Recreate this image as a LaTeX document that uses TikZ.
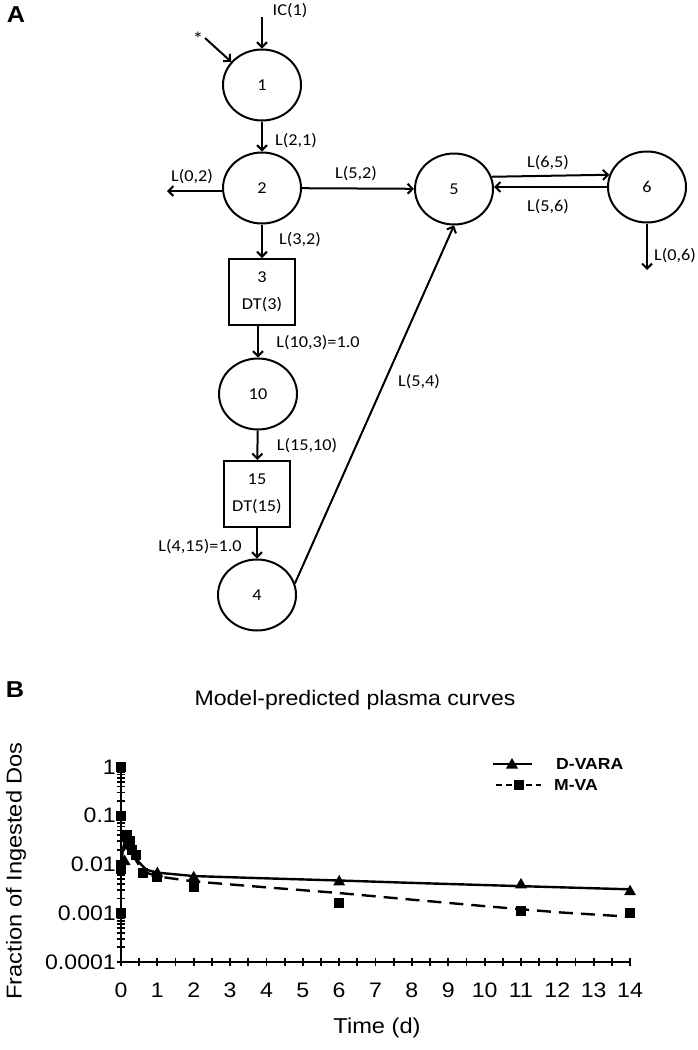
\documentclass[tikz,border=0pt]{standalone}
\usepackage{fontspec}
\setmainfont{Carlito}[FakeStretch=1.1]
\newfontfamily\plotfont{Liberation Sans}[FakeStretch=1.1]
\usepackage{tikz}
\usetikzlibrary{arrows.meta,shapes.geometric}

\tikzset{
  tri/.pic={\fill (0,6pt) -- (-6pt,-4.5pt) -- (6pt,-4.5pt) -- cycle;},
  sq/.pic={\fill (-5pt,-5pt) rectangle (5pt,5pt);}
}

\begin{document}
\begin{tikzpicture}[x=1pt,y=-1pt,
    comp/.style={draw,ellipse,line width=2pt,minimum width=78pt,minimum height=71pt,inner sep=0pt,font=\fontsize{16.6}{27}\selectfont},
    delay/.style={draw,rectangle,line width=2pt,minimum width=66pt,minimum height=66pt,inner sep=0pt,align=center,font=\fontsize{16.6}{27}\selectfont},
    flow/.style={line width=2pt,-{Straight Barb[length=5pt,width=10pt]}},
    lbl/.style={inner sep=0pt,font=\fontsize{16.6}{20}\selectfont},
    panel/.style={inner sep=0pt,font=\plotfont\fontsize{23}{23}\selectfont\bfseries},
    tick/.style={inner sep=0pt,font=\plotfont\fontsize{21}{21}\selectfont},
    axlbl/.style={inner sep=0pt,font=\plotfont\fontsize{21.5}{22}\selectfont},
    leg/.style={inner sep=0pt,anchor=west,font=\plotfont\fontsize{16}{16}\selectfont\bfseries}]
    \useasboundingbox (0,0) rectangle (698,1050);

    % Panel A: compartments
    \node[panel] (pa) at (16,15) {A};
    \node[comp] (n1) at (262,85) {1};
    \node[comp] (n2) at (262,188) {2};
    \node[comp] (n5) at (454,189) {5};
    \node[comp] (n6) at (647,187) {6};
    \node[delay] (b3) at (262,292) {3\\DT(3)};
    \node[comp] (n10) at (258,394) {10};
    \node[delay] (b15) at (257,494) {15\\DT(15)};
    \node[comp] (n4) at (257,595) {4};

    % free ends
    \coordinate (icin) at (262,17);
    \coordinate (sin) at (205,38);
    \coordinate (out2) at (167,191);
    \coordinate (out6) at (647,270);

    % transfers
    \draw[flow] (icin) -- (n1);
    \draw[flow] (sin) -- (n1.143);
    \draw[flow] (n1) -- (n2);
    \draw[flow] (n2.west |- out2) -- (out2);
    \draw[flow] (n2) -- (n5);
    \draw[flow] (n5.18) -- (n6.162);
    \draw[flow] (n6.west) -- (n5.east |- n6.west);
    \draw[flow] (n6) -- (out6);
    \draw[flow] (n2) -- (b3);
    \draw[flow] (n10.north |- b3.south) -- (n10);
    \draw[flow] (n10) -- (b15);
    \draw[flow] (b15) -- (n4);
    \draw[flow] (n4.17) -- (n5.south);

    % labels
    \node[lbl] (tic) at (290,11) {IC(1)};
    \node[lbl,font=\fontsize{19}{20}\selectfont] (tstar) at (198,39) {*};
    \node[lbl] (t21) at (296,141) {L(2,1)};
    \node[lbl] (t02) at (192,177) {L(0,2)};
    \node[lbl] (t52) at (356,174) {L(5,2)};
    \node[lbl] (t65) at (548,163) {L(6,5)};
    \node[lbl] (t56) at (548,207) {L(5,6)};
    \node[lbl] (t06) at (675,256) {L(0,6)};
    \node[lbl] (t32) at (300,240) {L(3,2)};
    \node[lbl] (t103) at (318,343) {L(10,3)=1.0};
    \node[lbl] (t1510) at (307,446) {L(15,10)};
    \node[lbl] (t415) at (200,547) {L(4,15)=1.0};
    \node[lbl] (t54) at (419,382) {L(5,4)};

    % Panel B: plasma curves
    \node[panel] (pb) at (15,690) {B};
    \node[tick] (title) at (355,700) {Model-predicted plasma curves};
    \node[axlbl,rotate=90] (ylab) at (16,871) {Fraction of Ingested Dos};
    \node[axlbl] (xlab) at (377,1028) {Time (d)};

    % Legend
    \draw[line width=2.4pt] (493,764) -- (532,764);
    \pic at (512,764) {tri};
    \node[leg] (legA) at (556,764) {D-VARA};
    \draw[line width=2.4pt,dash pattern=on 6pt off 4pt] (496,785) -- (541,785);
    \pic at (519,785) {sq};
    \node[leg] (legB) at (554,785) {M-VA};

    \begin{scope}[shift={(121,962)},x=36.36pt,y=48.75pt]
    % axes
    \draw[line width=2.8pt] (0,4) -- (0,0) -- (14,0);
    \foreach \t in {0,0.5,...,14}
        \draw[line width=1.8pt] (\t,0) ++(0,-4pt) -- ++(0,8pt);
    \foreach \d in {0,1,2,3}
        \foreach \k in {1,...,9}
            \draw[line width=1.8pt] (0,{\d+log10(\k)}) ++(-4pt,0) -- ++(8pt,0);
    \draw[line width=1.8pt] (0,4) ++(-4pt,0) -- ++(8pt,0);
    \foreach \t in {0,...,14}
        \node[tick,yshift=-28pt] (xl\t) at (\t,0) {\t};
    \foreach \y/\v in {4/1,3/0.1,2/0.01,1/0.001,0/0.0001}
        \node[tick,anchor=east,xshift=-5pt] (yl\y) at (0,\y) {\v};

    % D-VARA model
    \draw[line width=2.4pt,line join=round] plot coordinates {(0,1.954) (0.05,2.301) (0.12,2.544) (0.2,2.477) (0.3,2.301) (0.5,2.041) (0.7,1.892) (1,1.833) (2,1.763) (4,1.716) (6,1.672) (8,1.623) (11,1.556) (14,1.491)};
    % M-VA model
    \draw[line width=2.4pt,dash pattern=on 14pt off 8pt] plot coordinates {(0,1.903) (0.05,2.255) (0.12,2.505) (0.2,2.431) (0.3,2.230) (0.5,1.978) (0.7,1.833) (1,1.756) (2,1.653) (4,1.531) (6,1.415) (8,1.279) (10,1.146) (12,1.021) (14,0.929)};

    % data points
    \foreach \t/\y in {0.1/2.079,0.2/2.398,1/1.833,2/1.748,6/1.663,11/1.602,14/1.462}
        \pic at (\t,\y) {tri};
    \foreach \t/\y in {0/4,0/3,0/2,0/1.903,0/1,0.17/2.602,0.25/2.477,0.3/2.301,0.4/2.204,0.6/1.833,1/1.740,2/1.544,6/1.204,11/1.041,14/1}
        \pic at (\t,\y) {sq};
    \end{scope}
\end{tikzpicture}
\end{document}
